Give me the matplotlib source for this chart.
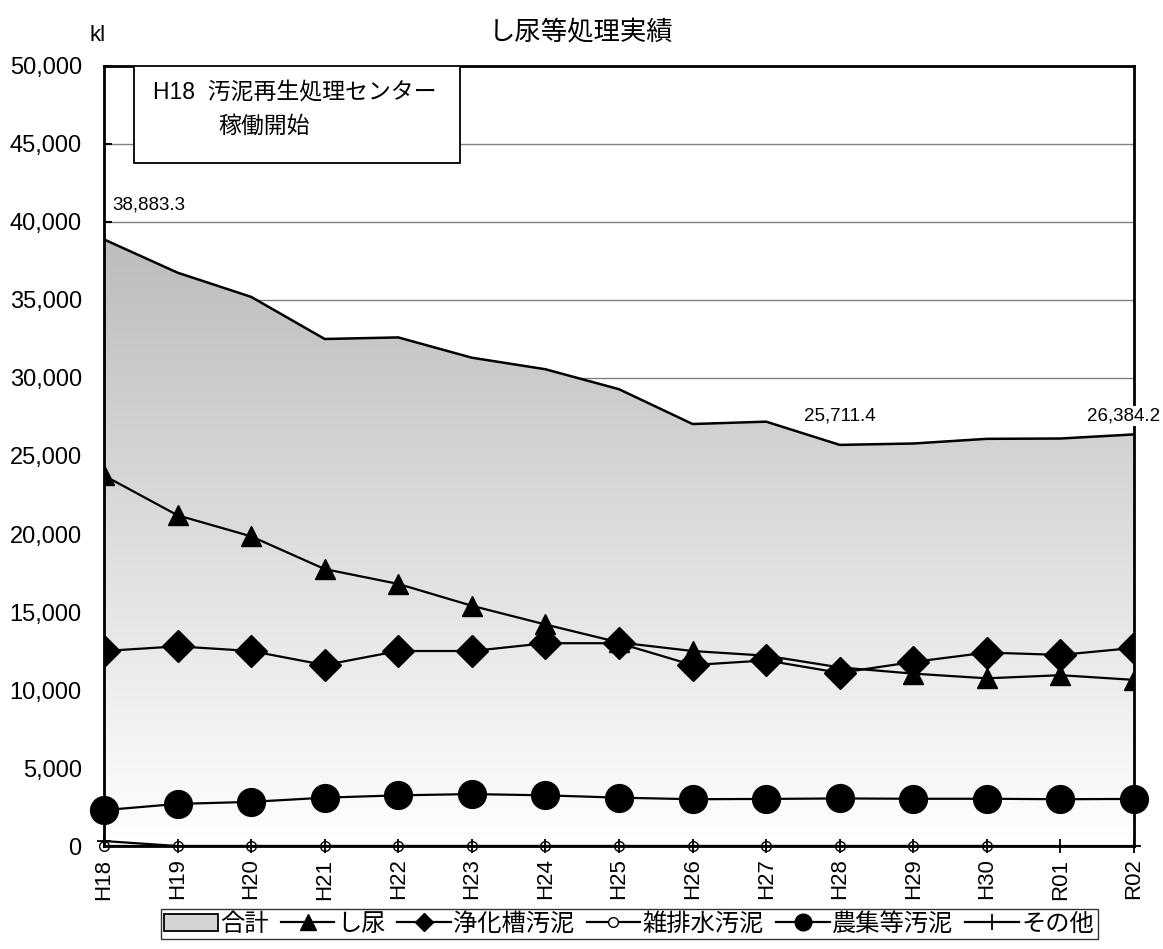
import numpy as np
import matplotlib
matplotlib.use('Agg')
import matplotlib.pyplot as plt
from matplotlib.colors import LinearSegmentedColormap
from matplotlib.patches import Patch, Rectangle
from matplotlib.lines import Line2D

plt.rcParams['font.family'] = ['Liberation Sans', 'Noto Sans CJK JP', 'DejaVu Sans']

# data (kl)
years = ['H18', 'H19', 'H20', 'H21', 'H22', 'H23', 'H24', 'H25', 'H26', 'H27', 'H28', 'H29', 'H30', 'R01', 'R02']
total = [38883.3, 36750, 35200, 32500, 32600, 31300, 30560, 29280, 27050, 27200, 25711.4, 25800, 26100, 26120, 26384.2]
shinyo = [23750, 21200, 19850, 17750, 16800, 15400, 14200, 13050, 12500, 12200, 11450, 11050, 10750, 10950, 10650]
jokaso = [12500, 12800, 12500, 11600, 12500, 12500, 13000, 13000, 11600, 11900, 11100, 11800, 12400, 12250, 12700]
zatsu = [0, 0, 0, 0, 0, 0, 0, 0, 0, 0, 0, 0, 0, np.nan, np.nan]
noshu = [2300, 2700, 2830, 3100, 3250, 3330, 3250, 3100, 3000, 3020, 3050, 3030, 3030, 3000, 3020]
sonota = [320, 0, 0, 0, 0, 0, 0, 0, 0, 0, 0, 0, 0, 0, 0]

x = np.arange(len(years))

fig = plt.figure(figsize=(11.63, 9.49), dpi=100)
ax = fig.add_axes([0.0894, 0.1085, 0.8857, 0.8220])

# gradient area for the total
poly = ax.fill_between(x, total, 0, facecolor='none', edgecolor='none')
cmap = LinearSegmentedColormap.from_list('g', ['#ffffff', '#bcbcbc'])
grad = np.linspace(0, 1, 256).reshape(-1, 1)
im = ax.imshow(grad, extent=[0, len(years) - 1, 0, max(total)], origin='lower',
               cmap=cmap, aspect='auto', zorder=1)
im.set_clip_path(poly.get_paths()[0], transform=ax.transData)
ax.plot(x, total, color='black', lw=1.8, zorder=3)

lw = 1.6
ax.plot(x, shinyo, color='black', lw=lw, marker='^', ms=15, zorder=4)
ax.plot(x, jokaso, color='black', lw=lw, marker='D', ms=16, zorder=4)
ax.plot(x, noshu, color='black', lw=lw, marker='o', ms=20, zorder=4, clip_on=False)
ax.plot(x, zatsu, color='black', lw=lw, marker='o', ms=7, mfc='white', zorder=5, clip_on=False)
ax.plot(x, sonota, color='black', lw=lw, marker='+', ms=10, mew=1.3, zorder=5, clip_on=False)

ax.set_xlim(0, len(years) - 1)
ax.set_ylim(0, 50000)
ax.set_yticks(np.arange(0, 50001, 5000))
ax.set_yticklabels([f'{v:,}' for v in range(0, 50001, 5000)], fontsize=17)
ax.set_xticks(x)
ax.set_xticklabels(years, rotation=90, fontsize=16)
ax.tick_params(axis='y', direction='in', length=6, width=1.5, pad=16)
ax.tick_params(axis='x', length=0, pad=9)
ax.yaxis.grid(True, color='#808080', lw=1)
ax.set_axisbelow(True)
for s in ax.spines.values():
    s.set_linewidth(2)
    s.set_zorder(6)

# note box
ax.add_patch(Rectangle((0.029, 0.8756), 0.3166, 0.1244, transform=ax.transAxes,
                       facecolor='white', edgecolor='black', lw=1.3, zorder=7))
ax.text(0.0476, 0.965, 'H18  汚泥再生処理センター', transform=ax.transAxes,
        fontsize=16.5, va='center', ha='left', zorder=8)
ax.text(0.1107, 0.923, '稼働開始', transform=ax.transAxes,
        fontsize=16.5, va='center', ha='left', zorder=8)

# data labels
lab_box = dict(facecolor='white', edgecolor='none', pad=1)
ax.text(0.12, 41100, f'{total[0]:,.1f}', fontsize=13.5, ha='left', va='center', bbox=lab_box, zorder=7)
ax.text(10, 27560, f'{total[10]:,.1f}', fontsize=13.5, ha='center', va='center', bbox=lab_box, zorder=7)
ax.text(13.86, 27560, f'{total[14]:,.1f}', fontsize=13.5, ha='center', va='center', bbox=lab_box,
        zorder=7, clip_on=False)

fig.text(0.5, 0.965, 'し尿等処理実績', fontsize=19, ha='center', va='center')
fig.text(0.077, 0.963, 'kl', fontsize=16, ha='left', va='center')

handles = [
    Patch(facecolor='#d4d4d4', edgecolor='black', lw=1.3),
    Line2D([], [], color='black', lw=lw, marker='^', ms=11),
    Line2D([], [], color='black', lw=lw, marker='D', ms=9),
    Line2D([], [], color='black', lw=lw, marker='o', ms=7, mfc='white'),
    Line2D([], [], color='black', lw=lw, marker='o', ms=12),
    Line2D([], [], color='black', lw=lw, marker='+', ms=11, mew=1.3),
]
labels = ['合計', 'し尿', '浄化槽汚泥', '雑排水汚泥', '農集等汚泥', 'その他']
leg = fig.legend(handles, labels, loc='center', bbox_to_anchor=(0.541, 0.026), ncol=6,
                 fontsize=17.5, frameon=True, fancybox=False, edgecolor='black',
                 handlelength=2.2, handletextpad=0.1, columnspacing=0.5,
                 borderpad=0.15, borderaxespad=0)
leg.get_frame().set_linewidth(1)

fig.savefig('out.png', dpi=100)
